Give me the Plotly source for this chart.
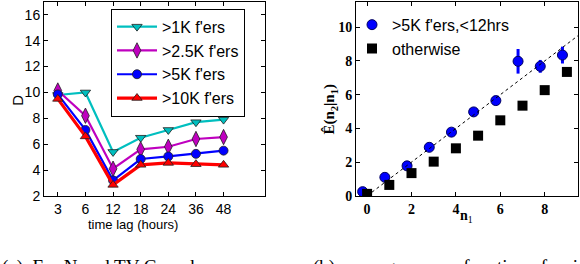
import plotly.graph_objects as go

# ---------- data: left panel ----------
lag_labels = ["3", "6", "12", "18", "24", "36", "48"]
lag_index = [1, 2, 3, 4, 5, 6, 7]
d_1k = [9.8, 10.0, 5.4, 6.5, 7.1, 7.7, 7.9]
d_2_5k = [10.15, 8.2, 4.1, 5.6, 5.8, 6.4, 6.55]
d_5k = [9.85, 7.1, 3.2, 4.85, 5.05, 5.25, 5.5]
d_10k = [9.5, 6.6, 2.85, 4.4, 4.55, 4.45, 4.4]
left_yticks = [2, 4, 6, 8, 10, 12, 14, 16]

# ---------- data: right panel ----------
n1_sel = [-0.2, 0.8, 1.8, 2.8, 3.8, 4.8, 5.8, 6.8, 7.8, 8.8]
e_sel = [0.25, 1.1, 1.78, 2.88, 3.78, 4.98, 5.65, 7.98, 7.68, 8.35]
err_sel = [0.08, 0.12, 0.1, 0.1, 0.14, 0.12, 0.15, 0.73, 0.38, 0.5]
n1_oth = [0, 1, 2, 3, 4, 5, 6, 7, 8, 9]
e_oth = [0.12, 0.65, 1.35, 2.03, 2.82, 3.57, 4.48, 5.35, 6.27, 7.35]
ident = [0, 9.5]
right_xticks = [0, 2, 4, 6, 8]
right_yticks = [0, 2, 4, 6, 8, 10]

W, H = 580, 264
def px(x):
    return x / W
def py(y):
    return 1 - y / H

sans = "Liberation Sans, Arial, sans-serif"
serif = "Liberation Serif, DejaVu Serif, serif"

fig = go.Figure()

series = [
    (d_1k, ">1K f'ers", "#00BFBF", "triangle-down", 2.2, 9),
    (d_2_5k, ">2.5K f'ers", "#BF00BF", "diamond-tall", 2.2, 11),
    (d_5k, ">5K f'ers", "#0000FF", "circle", 2.2, 9),
    (d_10k, ">10K f'ers", "#FF0000", "triangle-up", 3.2, 9),
]
for vals, name, col, sym, lw, ms in series:
    fig.add_trace(go.Scatter(
        x=lag_index, y=vals, name=name, mode="lines+markers",
        line=dict(color=col, width=lw),
        marker=dict(symbol=sym, size=ms, color=col,
                    line=dict(color="#202020", width=0.8)),
        xaxis="x", yaxis="y", legend="legend", hoverinfo="skip"))

fig.add_trace(go.Scatter(
    x=n1_sel, y=e_sel, name=">5K f'ers,<12hrs", mode="markers",
    marker=dict(symbol="circle", size=10, color="#0000FF",
                line=dict(color="#000060", width=1)),
    error_y=dict(type="data", array=err_sel, color="#0000FF", thickness=3, width=0),
    xaxis="x2", yaxis="y2", legend="legend2", hoverinfo="skip"))
fig.add_trace(go.Scatter(
    x=n1_oth, y=e_oth, name="otherwise", mode="markers",
    marker=dict(symbol="square", size=10, color="#000000"),
    xaxis="x2", yaxis="y2", legend="legend2", hoverinfo="skip"))
fig.add_trace(go.Scatter(
    x=ident, y=ident, mode="lines", showlegend=False,
    line=dict(color="#000000", width=1, dash="dot"),
    xaxis="x2", yaxis="y2", hoverinfo="skip"))

axis_common = dict(showgrid=False, zeroline=False, showline=True, linecolor="black",
                   linewidth=1, mirror="allticks", ticks="inside", ticklen=4,
                   tickcolor="black")

fig.update_layout(
    width=W, height=H, margin=dict(l=0, r=0, t=0, b=0),
    paper_bgcolor="white", plot_bgcolor="white", hovermode=False,
    xaxis=dict(domain=[px(44), px(265)], range=[0.5, 8.5], tickmode="array",
               tickvals=lag_index, ticktext=lag_labels,
               tickfont=dict(family=sans, size=14, color="black"), **axis_common),
    yaxis=dict(domain=[py(202), py(2)], range=[2, 17], tickmode="array",
               tickvals=left_yticks,
               tickfont=dict(family=sans, size=14, color="black"), **axis_common),
    xaxis2=dict(domain=[px(356), px(578)], range=[-0.5, 9.5], tickmode="array",
                tickvals=right_xticks, anchor="y2",
                tickfont=dict(family=serif, size=14, color="black", weight="bold"),
                **axis_common),
    yaxis2=dict(domain=[py(202), py(2)], range=[0, 11.5], tickmode="array",
                tickvals=right_yticks, anchor="x2",
                tickfont=dict(family=serif, size=14, color="black", weight="bold"),
                **axis_common),
    legend=dict(x=px(111), y=py(9), xanchor="left", yanchor="top",
                bordercolor="black", borderwidth=1, bgcolor="white",
                font=dict(family=sans, size=16, color="black"),
                tracegroupgap=0, itemwidth=40),
    legend2=dict(x=px(352), y=py(8), xanchor="left", yanchor="top",
                 bgcolor="rgba(0,0,0,0)", borderwidth=0,
                 font=dict(family=sans, size=16, color="black"),
                 tracegroupgap=0, itemwidth=30),
    showlegend=True,
)

# annotation boxes render about 6 px above the requested point, hence the offsets
ann = [
    dict(text="time lag (hours)", x=px(133), y=py(231), xanchor="center", yanchor="middle",
         font=dict(family=sans, size=13, color="black")),
    dict(text="D", x=px(18), y=py(104), xanchor="center", yanchor="middle", textangle=-90,
         font=dict(family=sans, size=15, color="black")),
    dict(text="<b>n</b><sub>1</sub>", x=px(466), y=py(223), xanchor="center", yanchor="middle",
         font=dict(family=serif, size=14, color="black")),
    dict(text="<b>Ê(n<sub>2</sub>|n<sub>1</sub>)</b>", x=px(330), y=py(113),
         xanchor="center", yanchor="middle", textangle=-90,
         font=dict(family=serif, size=15, color="black")),
    dict(text="(a)  For N and TV Crunch", x=px(0), y=py(262),
         xanchor="left", yanchor="top",
         font=dict(family=serif, size=19, color="black")),
    dict(text="(b)  average n<sub>2</sub> as a function of n<sub>1</sub> id", x=px(311), y=py(262),
         xanchor="left", yanchor="top",
         font=dict(family=serif, size=19, color="black")),
]
for a in ann:
    a.update(xref="paper", yref="paper", showarrow=False)
fig.update_layout(annotations=ann)

fig.write_html("out.html", config={"displayModeBar": False},
               post_script="document.body.style.margin='0px';")
